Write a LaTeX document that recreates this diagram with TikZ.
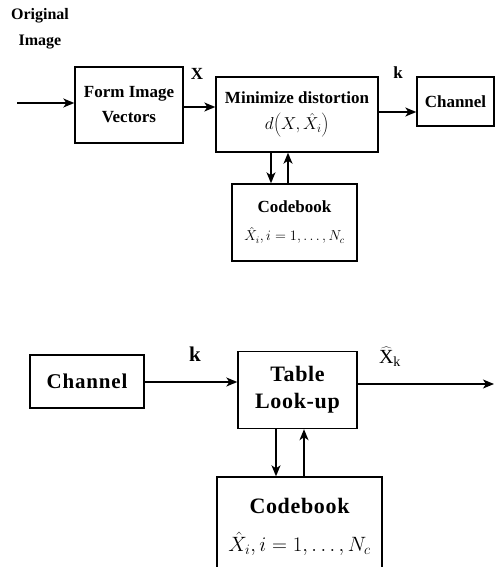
\documentclass[tikz,border=0pt]{standalone}
\usepackage{fontspec}
\setmainfont{Liberation Serif}
\usetikzlibrary{arrows.meta}
\tikzset{
  blk/.style={draw, line width=1.4pt, align=center, inner sep=0pt, font=\bfseries},
  arr/.style={line width=1.3pt, -{Stealth[length=11pt,width=9pt,inset=3pt]}},
  lbl/.style={inner sep=0pt, font=\bfseries}
}
\begin{document}
\begin{tikzpicture}[x=1pt,y=-1pt]
\clip (0,0) rectangle (496,567);
% top section
\node[lbl, align=center, font=\bfseries\fontsize{16}{26}\selectfont] (orig) at (40,29) {Original\\Image};
\node[blk, minimum width=108pt, minimum height=76pt, font=\bfseries\fontsize{17}{25}\selectfont] (fiv) at (129,105) {Form Image\\Vectors};
\node[blk, minimum width=162pt, minimum height=75pt, font=\bfseries\fontsize{17}{30}\selectfont] (md) at (297,114.5) {Minimize distortion\\[-4pt]\fontsize{17}{17}\selectfont$d\!\left(X,\hat{X}_i\right)$};
\node[blk, minimum width=77pt, minimum height=49pt, font=\bfseries\fontsize{17}{17}\selectfont] (ch1) at (455.5,101.5) {Channel};
\node[blk, minimum width=125pt, minimum height=77pt, font=\bfseries\fontsize{17}{30}\selectfont] (cb1) at (294.5,222.5) {Codebook\\[-2pt]\fontsize{14}{14}\selectfont$\hat{X}_i, i=1,\ldots,N_c$};
\coordinate (in) at (17,103);
\coordinate (y1) at (0,107);
\coordinate (y2) at (0,112);
\draw[arr] (in) -- (fiv.west |- in);
\draw[arr] (fiv.east |- y1) -- (md.west |- y1);
\draw[arr] (md.east |- y2) -- (ch1.west |- y2);
\coordinate (d1) at (271,0);
\coordinate (u1) at (288,0);
\draw[arr] (md.south -| d1) -- (cb1.north -| d1);
\draw[arr] (cb1.north -| u1) -- (md.south -| u1);
\node[lbl, font=\bfseries\fontsize{17}{17}\selectfont] (lx) at (197,74) {X};
\node[lbl, font=\bfseries\fontsize{17}{17}\selectfont] (lk1) at (398,73) {k};
% bottom section
\node[blk, minimum width=114pt, minimum height=53pt, font=\bfseries\fontsize{21}{24}\selectfont\addfontfeature{LetterSpace=4}] (ch2) at (87,381.5) {Channel};
\node[blk, minimum width=119pt, minimum height=77pt, font=\bfseries\fontsize{22}{27}\selectfont\addfontfeature{LetterSpace=3}] (tl) at (297.5,390) {Table\\Look-up};
\node[blk, minimum width=165pt, minimum height=100pt, font=\bfseries\fontsize{22}{38}\selectfont\addfontfeature{LetterSpace=3}] (cb2) at (299.5,527) {Codebook\\\fontsize{19.5}{19.5}\selectfont$\hat{X}_i, i=1,\ldots,N_c$};
\coordinate (y3) at (0,382);
\coordinate (y4) at (0,384);
\coordinate (out) at (494,384);
\draw[arr] (ch2.east |- y3) -- (tl.west |- y3);
\draw[arr] (tl.east |- y4) -- (out);
\coordinate (d2) at (276,0);
\coordinate (u2) at (304,0);
\draw[arr] (tl.south -| d2) -- (cb2.north -| d2);
\draw[arr] (cb2.north -| u2) -- (tl.south -| u2);
\node[lbl, font=\bfseries\fontsize{21}{21}\selectfont] (lk2) at (195,354) {k};
\node[inner sep=0pt, font=\fontsize{20}{20}\selectfont] (lxk) at (390,357) {$\widehat{\mathrm{X}}_{\mathrm{k}}$};
\end{tikzpicture}
\end{document}
